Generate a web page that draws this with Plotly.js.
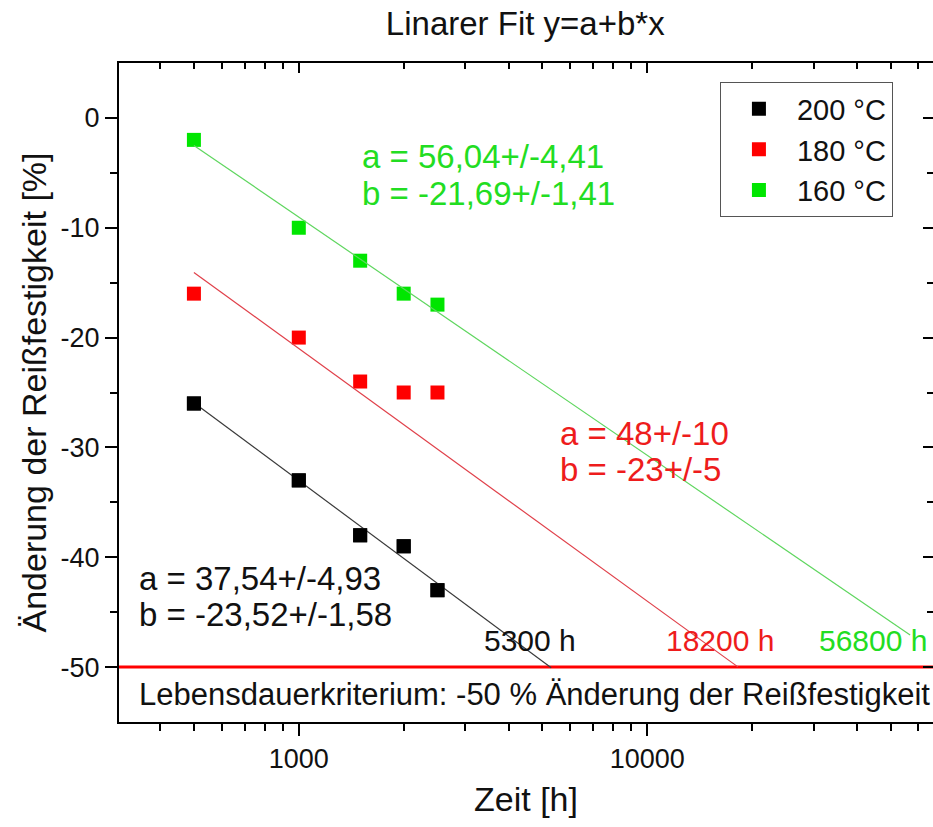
<!DOCTYPE html>
<html>
<head>
<meta charset="utf-8">
<script src="https://cdn.plot.ly/plotly-3.0.1.min.js"></script>
<style>
  html, body { margin: 0; padding: 0; background: #fff; overflow: hidden; }
  #chart { width: 933px; height: 827px; }
</style>
</head>
<body>
<div id="chart"></div>
<script>
// Messzeitpunkte (Zeit in h)
const zeit = [500, 1000, 1500, 2000, 2500];

// Änderung der Reißfestigkeit in % je Alterungstemperatur
const aenderung200 = [-26, -33, -38, -39, -43];
const aenderung180 = [-16, -20, -24, -25, -25];
const aenderung160 = [-2, -10, -13, -16, -17];

const serienNamen = ['200 °C', '180 °C', '160 °C'];

// Parameter des linearen Fits y = a + b*log10(x)
const fitA = [37.54, 48, 56.04];
const fitB = [-23.52, -23, -21.69];
const fitAText = ['a = 37,54+/-4,93', 'a = 48+/-10', 'a = 56,04+/-4,41'];
const fitBText = ['b = -23,52+/-1,58', 'b = -23+/-5', 'b = -21,69+/-1,41'];

// Lebensdauer bis zum Kriterium (h)
const lebensdauer = [5300, 18200, 56800];
const lebensdauerText = ['5300 h', '18200 h', '56800 h'];
const kriterium = -50;
const kriteriumText = 'Lebensdauerkriterium: -50 % Änderung der Reißfestigkeit';

// Achsenbeschriftung
const xTickVals = [1000, 10000];
const xTickText = ['1000', '10000'];
const xMinorVals = [400, 500, 600, 700, 800, 900,
  2000, 3000, 4000, 5000, 6000, 7000, 8000, 9000,
  20000, 30000, 40000, 50000, 60000];
const yTickVals = [0, -10, -20, -30, -40, -50];
const yTickText = ['0', '-10', '-20', '-30', '-40', '-50'];
const yMinorVals = [-5, -15, -25, -35, -45];

const FONT = '"Liberation Sans", Arial, sans-serif';
const markerFarben = ['#000000', '#ff0000', '#00e600'];
const linienFarben = ['#3a3a3a', '#e0404a', '#5fd65f'];
const textFarben = ['#111111', '#ee1c1c', '#22dd22'];

const werte = [aenderung200, aenderung180, aenderung160];

const traces = [];
// Messpunkte
werte.forEach((y, i) => {
  traces.push({
    type: 'scatter', mode: 'markers', name: serienNamen[i],
    x: zeit, y: y,
    marker: { symbol: 'square', size: 14, color: markerFarben[i] },
    xaxis: 'x', yaxis: 'y'
  });
});
// Fitgeraden von der ersten Messung bis zur Lebensdauer
werte.forEach((y, i) => {
  const xs = [zeit[0], lebensdauer[i]];
  traces.push({
    type: 'scatter', mode: 'lines', showlegend: false, hoverinfo: 'skip',
    x: xs, y: xs.map(v => fitA[i] + fitB[i] * Math.log10(v)),
    line: { color: linienFarben[i], width: 1.2 },
    xaxis: 'x', yaxis: 'y'
  });
});

const xRange = [2.484, 4.82];
const yRange = [-55, 5];

const annotations = [];
function text(x, y, s, size, color, xanchor) {
  annotations.push({
    xref: 'paper', yref: 'paper', x: x, y: y,
    xanchor: xanchor, yanchor: 'middle', align: 'left', showarrow: false,
    text: s, font: { family: FONT, size: size, color: color }
  });
}
// Fitparameter je Serie (Position in Papierkoordinaten)
const paramX = [0.022, 0.539, 0.296];
const paramYa = [0.2185, 0.4385, 0.858];
const paramYb = [0.1624, 0.3824, 0.802];
for (let i = 0; i < 3; i++) {
  text(paramX[i], paramYa[i], fitAText[i], 33, textFarben[i], 'left');
  text(paramX[i], paramYb[i], fitBText[i], 33, textFarben[i], 'left');
}
const stundenX = [0.505, 0.738, 0.926];
for (let i = 0; i < 3; i++) {
  text(stundenX[i], 0.124, lebensdauerText[i], 30, textFarben[i], 'center');
}
text(0.022, 0.041, kriteriumText, 31, '#111111', 'left');

const achse = {
  showgrid: false, zeroline: false, linecolor: '#000', linewidth: 2,
  tickcolor: '#000', tickwidth: 2, ticklen: 12,
  tickfont: { family: FONT, size: 27, color: '#111' }
};

const layout = {
  width: 933, height: 827,
  margin: { l: 119, r: 0, t: 63, b: 105, autoexpand: false },
  paper_bgcolor: '#fff', plot_bgcolor: '#fff',
  title: {
    text: 'Linarer Fit y=a+b*x', x: 0.563, xanchor: 'center', y: 0.972, yanchor: 'middle',
    font: { family: FONT, size: 33, color: '#111' }
  },
  showlegend: true,
  legend: {
    x: 0.738, y: 0.971, xanchor: 'left', yanchor: 'top',
    bgcolor: '#fff', bordercolor: '#555', borderwidth: 1.2,
    font: { family: FONT, size: 29, color: '#111' },
    itemwidth: 66, tracegroupgap: 0
  },
  xaxis: Object.assign({}, achse, {
    type: 'log', range: xRange, side: 'bottom', anchor: 'y',
    showline: true, ticks: 'outside', tickmode: 'array',
    tickvals: xTickVals, ticktext: xTickText,
    minor: { tickmode: 'array', tickvals: xMinorVals, ticks: 'outside', ticklen: 7, tickwidth: 1.5, tickcolor: '#000' },
    title: { text: 'Zeit [h]', standoff: 14, font: { family: FONT, size: 34, color: '#111' } }
  }),
  yaxis: Object.assign({}, achse, {
    range: yRange, side: 'left', anchor: 'x',
    showline: true, ticks: 'outside', tickmode: 'array',
    tickvals: yTickVals, ticktext: yTickText,
    minor: { tickmode: 'array', tickvals: yMinorVals, ticks: 'outside', ticklen: 7, tickwidth: 1.5, tickcolor: '#000' },
    title: { text: 'Änderung der Reißfestigkeit [%]', standoff: 4, font: { family: FONT, size: 34, color: '#111' } }
  }),
  xaxis2: Object.assign({}, achse, {
    type: 'log', range: xRange, overlaying: 'x', side: 'top', anchor: 'y',
    showline: true, ticks: 'inside', ticklen: 10, tickmode: 'array',
    tickvals: xTickVals, showticklabels: false,
    minor: { tickmode: 'array', tickvals: xMinorVals, ticks: 'inside', ticklen: 6, tickwidth: 1.5, tickcolor: '#000' }
  }),
  yaxis2: Object.assign({}, achse, {
    range: yRange, overlaying: 'y', side: 'right', anchor: 'x',
    showline: false, ticks: 'inside', ticklen: 10, tickmode: 'array',
    tickvals: yTickVals, showticklabels: false,
    minor: { tickmode: 'array', tickvals: yMinorVals, ticks: 'inside', ticklen: 6, tickwidth: 1.5, tickcolor: '#000' }
  }),
  shapes: [{
    type: 'line', xref: 'paper', x0: 0, x1: 1, yref: 'y', y0: kriterium, y1: kriterium,
    line: { color: '#ff0000', width: 3 }, layer: 'below'
  }],
  annotations: annotations
};

// Rahmenachsen oben/rechts brauchen eine zugeordnete Spur
traces.push({
  type: 'scatter', mode: 'markers', x: zeit, y: aenderung200, xaxis: 'x2', yaxis: 'y2',
  marker: { size: 14, symbol: 'square', color: markerFarben[0] }, showlegend: false, hoverinfo: 'skip'
});

Plotly.newPlot('chart', traces, layout, { displayModeBar: false, responsive: false });
</script>
</body>
</html>
